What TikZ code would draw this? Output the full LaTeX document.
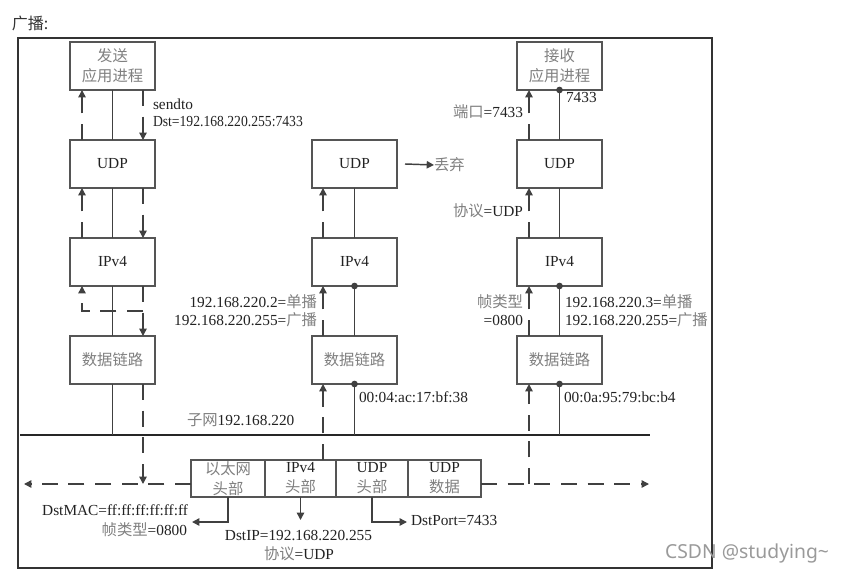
\documentclass[tikz,border=0pt]{standalone}
\usepackage{fontspec}
\setmainfont{Liberation Serif}
\newfontfamily\cjkf{Noto Sans CJK SC}
\newfontfamily\wmf{Noto Sans}
\usetikzlibrary{arrows.meta,calc}
\definecolor{txtc}{HTML}{222222}
\definecolor{cjkc}{HTML}{808080}
\definecolor{boxc}{HTML}{555555}
\definecolor{linec}{HTML}{404040}
\definecolor{framec}{HTML}{333333}
\definecolor{wmc}{HTML}{9A9A9A}
\newcommand{\zhs}[1]{{\cjkf\color{cjkc}#1}}
\begin{document}
\begin{tikzpicture}[x=0.75pt,y=-0.75pt,
  every node/.style={inner sep=0pt, outer sep=0pt, text=txtc, font=\fontsize{11.5}{15}\selectfont},
  layer/.style={draw=boxc, line width=1.4pt, minimum width=63.75pt, minimum height=36pt, align=center},
  cell/.style={draw=boxc, line width=1.4pt, minimum height=27.75pt, align=center},
  conn/.style={draw=linec, line width=1.1pt},
  dsh/.style={conn, dash pattern=on 12pt off 8pt},
  tip/.style={-{Triangle[length=5.5pt,width=5.5pt]}},
  dot/.style={circle, fill=linec, minimum size=5pt}]
\fill[white] (0,0) rectangle (841,577);
\useasboundingbox (0,0) rectangle (841,577);

% title and frame
\node[anchor=west, text=framec, font=\cjkf\fontsize{12}{14}\selectfont] (title) at (12,23) {广播:};
\draw[draw=framec, line width=1.1pt] (18,38) rectangle (712,568);

% layers
\node[layer] (sapp) at (112.5,66) {\zhs{发送}\\\zhs{应用进程}};
\node[layer] (sudp) at (112.5,164) {UDP};
\node[layer] (sip)  at (112.5,262) {IPv4};
\node[layer] (sdl)  at (112.5,360) {\zhs{数据链路}};

\node[layer] (mudp) at (354.5,164) {UDP};
\node[layer] (mip)  at (354.5,262) {IPv4};
\node[layer] (mdl)  at (354.5,360) {\zhs{数据链路}};

\node[layer] (rapp) at (559.5,66) {\zhs{接收}\\\zhs{应用进程}};
\node[layer] (rudp) at (559.5,164) {UDP};
\node[layer] (rip)  at (559.5,262) {IPv4};
\node[layer] (rdl)  at (559.5,360) {\zhs{数据链路}};

% packet
\node[cell, minimum width=55.5pt]  (eth)  at (228,478.5)   {\zhs{以太网}\\\zhs{头部}};
\node[cell, minimum width=53.25pt] (iph)  at (300.5,478.5) {IPv4\\\zhs{头部}};
\node[cell, minimum width=54pt]    (udph) at (372,478.5)   {UDP\\\zhs{头部}};
\node[cell, minimum width=54.75pt] (udpd) at (444.5,478.5) {UDP\\\zhs{数据}};

% bus
\coordinate (busL) at (20,435);
\coordinate (busR) at (650,435);
\draw[draw=black!85, line width=2pt] (busL) -- (busR);
\node[anchor=base west] (lsub) at (187,425) {\zhs{子网}192.168.220};

% horizontal dashed frame path
\coordinate (hl) at (0,484);
\coordinate (hlL) at (24,484);
\coordinate (hlR) at (649,484);
\draw[dsh,tip] (eth.west |- hl) -- (hlL);
\draw[dsh,tip] (udpd.east |- hl) -- (hlR);

% ---- sender column
\draw[conn] (sapp) -- (sudp);
\draw[conn] (sudp) -- (sip);
\draw[conn] (sip) -- (sdl);
\draw[conn] (sdl.south) -- (sdl.south |- busL);
\draw[dsh,tip] ([xshift=-22.875pt]sudp.north) -- ([xshift=-22.875pt]sapp.south);
\draw[dsh,tip] ([xshift=22.875pt]sapp.south) -- ([xshift=22.875pt]sudp.north);
\draw[dsh,tip] ([xshift=-22.875pt]sip.north) -- ([xshift=-22.875pt]sudp.south);
\draw[dsh,tip] ([xshift=22.875pt]sudp.south) -- ([xshift=22.875pt]sip.north);
\draw[dsh,tip] ([xshift=22.875pt]sip.south) -- ([xshift=22.875pt]sdl.north);
\coordinate (lpR) at ([xshift=22.875pt,yshift=-18.75pt]sip.south);
\coordinate (lpL) at ([xshift=-22.875pt,yshift=-18.75pt]sip.south);
\draw[dsh,tip] (lpR) -- (lpL) -- ([xshift=-22.875pt]sip.south);
\coordinate (sx) at ([xshift=22.875pt]sdl.south);
\draw[dsh,tip] (sx) -- (sx |- hl);
\node[anchor=base west] (lsend) at (153,110) {sendto};
\node[anchor=base west] (ldst) at (153,127) {\scalebox{0.89}[1]{Dst=192.168.220.255:7433}};

% ---- middle host
\draw[conn] (mudp) -- (mip);
\draw[conn] (mip) -- (mdl);
\draw[conn] (mdl.south) -- (mdl.south |- busL);
\node[dot] (md1) at (mip.south) {};
\node[dot] (md2) at (mdl.south) {};
\coordinate (mx) at ([xshift=-23.625pt]mdl.south);
\draw[dsh,tip] (mx |- iph.north) -- (mx);
\draw[dsh,tip] ([xshift=-23.625pt]mdl.north) -- ([xshift=-23.625pt]mip.south);
\draw[dsh,tip] ([xshift=-23.625pt]mip.north) -- ([xshift=-23.625pt]mudp.south);
\node[anchor=west] (drop) at (434,165) {\zhs{丢弃}};
\draw[conn,tip] ([xshift=6pt]mudp.east) -- (drop.west);
\node[anchor=base east] (lu2) at (317,307) {192.168.220.2=\zhs{单播}};
\node[anchor=base east] (lb2) at (317,325) {192.168.220.255=\zhs{广播}};
\node[anchor=base west] (lmac2) at (359,402) {00:04:ac:17:bf:38};

% ---- receiver column
\draw[conn] (rudp) -- (rapp);
\draw[conn] (rip) -- (rudp);
\draw[conn] (rdl) -- (rip);
\draw[conn] (rdl.south) -- (rdl.south |- busL);
\node[dot] (rd0) at (rapp.south) {};
\node[dot] (rd1) at (rip.south) {};
\node[dot] (rd2) at (rdl.south) {};
\coordinate (rx) at ([xshift=-22.875pt]rdl.south);
\draw[dsh,tip] (rx |- hl) -- (rx);
\draw[dsh,tip] ([xshift=-22.875pt]rdl.north) -- ([xshift=-22.875pt]rip.south);
\draw[dsh,tip] ([xshift=-22.875pt]rip.north) -- ([xshift=-22.875pt]rudp.south);
\draw[dsh,tip] ([xshift=-22.875pt]rudp.north) -- ([xshift=-22.875pt]rapp.south);
\node[anchor=base east] (lport) at (523,118) {\zhs{端口}=7433};
\node[anchor=base west] (l7433) at (566,103) {7433};
\node[anchor=base east] (lproto) at (523,217) {\zhs{协议}=UDP};
\node[anchor=base east] (lft1) at (523,307) {\zhs{帧类型}};
\node[anchor=base east] (lft2) at (523,325) {=0800};
\node[anchor=base west] (lu3) at (565,307) {192.168.220.3=\zhs{单播}};
\node[anchor=base west] (lb3) at (565,325) {192.168.220.255=\zhs{广播}};
\node[anchor=base west] (lmac3) at (564,402) {00:0a:95:79:bc:b4};

% ---- packet field callouts
\coordinate (ethT) at (192,522);
\coordinate (udpT) at (407,522);
\draw[conn,tip] (eth.south) |- (ethT);
\draw[conn,tip] (iph.south) -- ++(0,23);
\draw[conn,tip] (udph.south) |- (udpT);
\node[anchor=base east] (ldm) at (188,515) {DstMAC=ff:ff:ff:ff:ff:ff};
\node[anchor=base east] (lft) at (187,535) {\zhs{帧类型}=0800};
\node[anchor=base] (ldip) at (298.5,540) {DstIP=192.168.220.255};
\node[anchor=base] (lpr) at (299,559) {\zhs{协议}=UDP};
\node[anchor=base west] (ldp) at (411,525) {DstPort=7433};

% watermark
\node[anchor=east, text=wmc, font=\wmf\fontsize{14.5}{17}\selectfont] (wm) at (829,553) {CSDN @studying\textasciitilde};
\end{tikzpicture}
\end{document}
